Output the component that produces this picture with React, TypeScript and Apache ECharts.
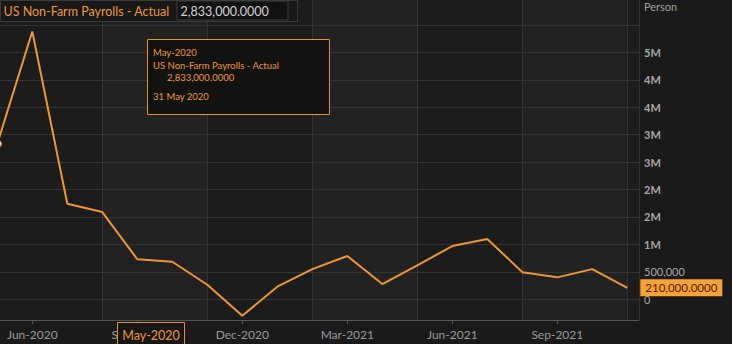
import React, { useEffect, useRef } from "react";
import * as echarts from "echarts";

const seriesName = "US Non-Farm Payrolls - Actual";
const months = [
  "May-2020", "Jun-2020", "Jul-2020", "Aug-2020", "Sep-2020", "Oct-2020", "Nov-2020",
  "Dec-2020", "Jan-2021", "Feb-2021", "Mar-2021", "Apr-2021", "May-2021", "Jun-2021",
  "Jul-2021", "Aug-2021", "Sep-2021", "Oct-2021", "Nov-2021",
];
const payrolls = [
  2833000, 4880000, 1740000, 1590000, 730000, 685000, 265000, -300000, 230000, 550000,
  790000, 278000, 620000, 970000, 1100000, 495000, 400000, 550000, 210000,
];
const xLabelIndices = [1, 4, 7, 10, 13, 16];
const yGridValues = [0, 500000, 1000000, 1500000, 2000000, 2500000, 3000000, 3500000, 4000000, 4500000, 5000000];
const yLabelValues = [0, 500000, 1000000, 1500000, 2000000, 2500000, 3000000, 3500000, 4000000, 4500000];
const yTickLabels = ["0", "500,000", "1M", "2M", "2M", "3M", "3M", "4M", "4M", "5M"];
const hoverIndex = 0;
const hoverDate = "31 May 2020";
const unitName = "Person";

const ORANGE = "#ec963c";
const FONT = "Lato, 'Open Sans', Arial, sans-serif";

const fmt4 = (v: number) =>
  v.toLocaleString("en-US", { minimumFractionDigits: 4, maximumFractionDigits: 4 });

export default function App() {
  const ref = useRef<HTMLDivElement>(null);
  useEffect(() => {
    if (!ref.current) return;
    const chart = echarts.init(ref.current, undefined, { renderer: "svg" });
    const xMax = 18.334;
    const lastIdx = payrolls.length - 1;
    const data = payrolls.map((v, i) =>
      i === hoverIndex
        ? {
            value: [i, v],
            symbol: "circle",
            symbolSize: 8,
            itemStyle: { color: "#f4f4f4", borderColor: ORANGE, borderWidth: 1 },
          }
        : { value: [i, v], symbol: "none" }
    );
    const hv = payrolls[hoverIndex];
    const Z = 100;
    chart.setOption({
      animation: false,
      backgroundColor: "#1a1a1a",
      textStyle: { fontFamily: FONT },
      grid: { left: -2.7, right: 93, top: 0, bottom: 24, outerBoundsMode: "none", containLabel: false },
      xAxis: [
        {
          type: "value",
          min: 0,
          max: xMax,
          position: "bottom",
          z: 3,
          axisLine: { show: true, onZero: false, lineStyle: { color: "#555" } },
          axisTick: { show: true, length: 4, lineStyle: { color: "#555" }, customValues: xLabelIndices },
          axisLabel: {
            show: true,
            customValues: xLabelIndices,
            color: "#9a9a9a",
            fontSize: 12,
            margin: 8,
            formatter: (v: number) => months[Math.round(v)],
          },
          splitLine: { show: false },
        },
        {
          type: "value",
          min: 0,
          max: xMax,
          interval: 3,
          position: "top",
          z: 0,
          axisLine: { show: false, onZero: false },
          axisTick: { show: false },
          axisLabel: { show: false },
          splitLine: { show: true, lineStyle: { color: "#333" } },
          splitArea: { show: true, areaStyle: { color: ["#1c1c1c", "#222222"] } },
        },
      ],
      yAxis: {
        type: "value",
        position: "right",
        min: -377000,
        max: 5454000,
        z: 2,
        axisLine: { show: true, lineStyle: { color: "#4a4a4a" } },
        axisTick: { show: false, customValues: yGridValues },
        splitLine: { show: true, lineStyle: { color: "#333" } },
        axisLabel: {
          customValues: yLabelValues,
          margin: 5,
          formatter: (v: number) => {
            const lbl = yTickLabels[yLabelValues.indexOf(v)];
            return lbl.endsWith("M") ? `{b|${lbl}}` : `{n|${lbl}}`;
          },
          rich: {
            b: { color: "#a8a8a8", fontSize: 11, fontWeight: "bold", fontFamily: FONT },
            n: { color: "#a8a8a8", fontSize: 11, fontFamily: FONT },
          },
        },
      },
      series: [
        {
          type: "line",
          name: seriesName,
          data,
          xAxisIndex: 0,
          showSymbol: true,
          lineStyle: { color: ORANGE, width: 2 },
          itemStyle: { color: ORANGE },
          z: 5,
          endLabel: {
            show: true,
            distance: 13,
            formatter: () => fmt4(payrolls[lastIdx]),
            backgroundColor: "#f5a236",
            color: "#5a1800",
            fontSize: 11.5,
            fontFamily: FONT,
            padding: [3, 5, 2, 5],
          },
        },
      ],
      graphic: [
        {
          type: "text",
          left: 644,
          top: 1,
          z: Z,
          style: { text: unitName, fill: "#a0a0a0", font: `11px ${FONT}` },
        },
        {
          type: "group",
          left: 0,
          top: 0,
          z: Z,
          children: [
            { type: "rect", z: Z, shape: { x: 0, y: 0, width: 297, height: 21 }, style: { fill: "#181818", stroke: "#3a3a3a", lineWidth: 1 } },
            { type: "rect", z: Z + 1, shape: { x: 176.5, y: 0.5, width: 111, height: 19 }, style: { fill: "#111111", stroke: "#3e3e3e", lineWidth: 1 } },
            { type: "text", z: Z + 2, x: 3, y: 11, style: { text: seriesName, fill: ORANGE, font: `12.5px ${FONT}`, verticalAlign: "middle" } },
            { type: "text", z: Z + 2, x: 180, y: 11, style: { text: fmt4(hv), fill: "#d6d6d6", font: `12.5px ${FONT}`, verticalAlign: "middle" } },
          ],
        },
        {
          type: "group",
          left: 147,
          top: 39,
          z: Z,
          children: [
            { type: "rect", z: Z, shape: { x: 0.5, y: 0.5, width: 182, height: 75 }, style: { fill: "#121311", stroke: "#e0923a", lineWidth: 1 } },
            { type: "text", z: Z + 1, x: 6, y: 13, style: { text: months[hoverIndex], fill: ORANGE, font: `9.5px ${FONT}`, verticalAlign: "middle" } },
            { type: "text", z: Z + 1, x: 6, y: 26, style: { text: seriesName, fill: ORANGE, font: `9.5px ${FONT}`, verticalAlign: "middle" } },
            { type: "text", z: Z + 1, x: 20, y: 38, style: { text: fmt4(hv), fill: ORANGE, font: `9.5px ${FONT}`, verticalAlign: "middle" } },
            { type: "text", z: Z + 1, x: 6, y: 57, style: { text: hoverDate, fill: ORANGE, font: `9.5px ${FONT}`, verticalAlign: "middle" } },
          ],
        },
        {
          type: "group",
          left: 117,
          top: 322,
          z: Z,
          children: [
            { type: "rect", z: Z, shape: { x: 0.5, y: 0.5, width: 67, height: 26 }, style: { fill: "#161616", stroke: "#e0923a", lineWidth: 1 } },
            { type: "text", z: Z + 1, x: 34, y: 13, style: { text: months[hoverIndex], fill: ORANGE, font: `12.5px ${FONT}`, align: "center", verticalAlign: "middle" } },
          ],
        },
      ],
    });
    return () => chart.dispose();
  }, []);
  return <div ref={ref} style={{ position: "fixed", left: 0, top: 0, width: 732, height: 344 }} />;
}
